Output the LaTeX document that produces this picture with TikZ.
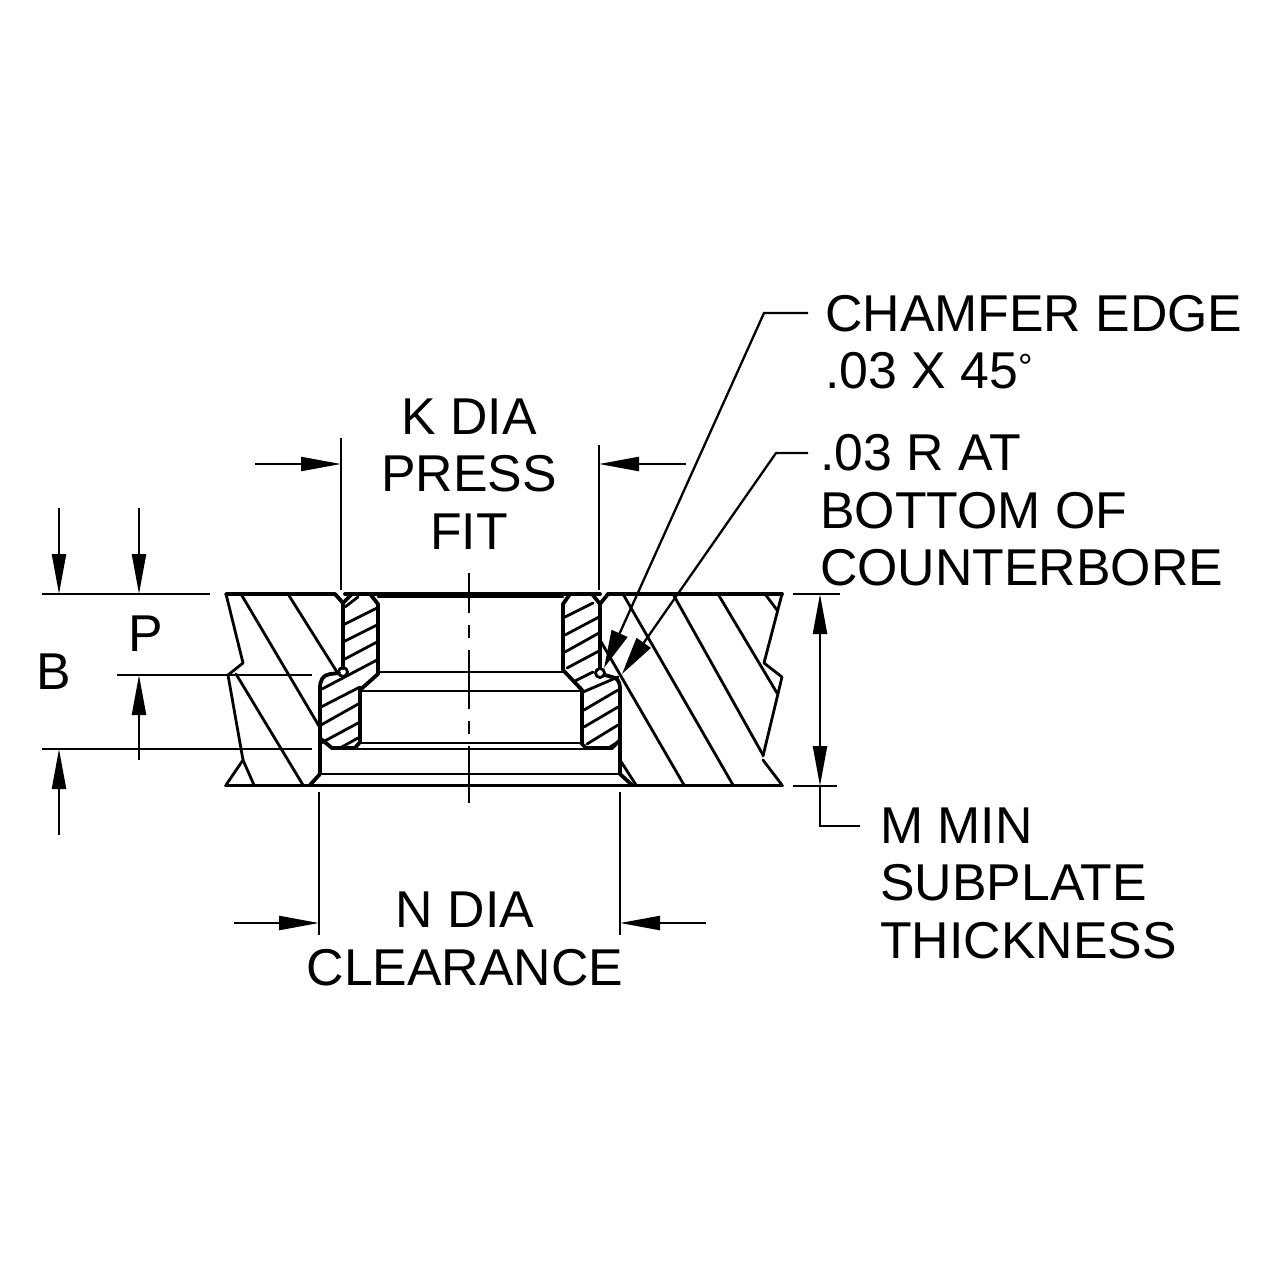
\documentclass[tikz,border=0pt]{standalone}
\usepackage{fontspec}
\setmainfont{Liberation Sans}
\usetikzlibrary{arrows.meta}
\tikzset{
  thick line/.style={line width=3.8pt,line cap=round,line join=round},
  body line/.style={line width=2.8pt,line cap=round,line join=round},
  dim/.style={line width=2.3pt,-{Triangle[length=40pt,width=14pt]}},
  dimboth/.style={line width=2.3pt,{Triangle[length=40pt,width=14pt]}-{Triangle[length=40pt,width=14pt]}},
  lead/.style={line width=2.3pt,line join=miter},
  leadtip/.style={line width=2.3pt,line join=miter,-{Triangle[length=38pt,width=17pt]}},
  extn/.style={line width=2.3pt},
  lab/.style={inner sep=0pt,font=\fontsize{51.8}{57.4}\selectfont},
}
\begin{document}
\begin{tikzpicture}[x=1pt,y=-1pt]
\useasboundingbox (0,0) rectangle (1280,1280);
\fill[white] (0,0) rectangle (1280,1280);

% plate outer edges, left
\draw[body line] (226,594) -- (243,663) -- (228,675) -- (243,760) -- (226,785);
\draw[body line] (243,760) -- (254,785);
% plate outer edges, right
\draw[body line] (782,594) -- (764,663) -- (782,677) -- (763,756);
\draw[body line] (763,760) -- (782,785);
% top and bottom faces
\draw[thick line] (226,594) -- (335,594) -- (343,603);
\draw[thick line] (608,594) -- (782,594);
\draw[thick line] (608,594) -- (600,604);
\draw[thick line] (226,785.5) -- (782,785.5);
\draw[thick line] (310,785) -- (320,774);
\draw[thick line] (632,785) -- (620,774);
% bore interior edges
\draw[thick line] (345,594) -- (600,594);
\draw[body line] (378,597) -- (563,597);
\draw[body line] (378,672) -- (563,672);
\draw[body line] (360,691) -- (582,691);
\draw[body line] (360,743) -- (582,743);
\draw[body line] (332,749) -- (612,749);
\draw[body line] (320,774) -- (620,774);

% left bushing
\draw[thick line] (343,603) -- (343,668);
\draw[thick line] (343,603) -- (352,594) -- (370,594) -- (378,604) -- (378,674) -- (360,690) -- (360,742) -- (355,748) -- (332,748) -- (321,739);
\draw[thick line] (339,673) -- (330,674) .. controls (323,675) and (320,680) .. (320,688) -- (320,774);
\draw[body line] (343,672) circle (4.5);
% right bushing
\draw[thick line] (600,604) -- (600,668);
\draw[thick line] (600,604) -- (592,594) -- (570,594) -- (563,604) -- (563,670) -- (582,690) -- (582,744) -- (586,748) -- (612,748) -- (620,740);
\draw[thick line] (605,675) -- (612,677) .. controls (617,678) and (620,681) .. (620,688) -- (620,774);
\draw[body line] (600,673) circle (4.5);

% hatching, plate left
\draw[body line] (241,594) -- (319,726);
\draw[body line] (288,594) -- (337,672);
\draw[body line] (236,674) -- (303,785);
% hatching, plate right
\draw[body line] (600,640) -- (684,785);
\draw[body line] (623,594) -- (733,785);
\draw[body line] (673,594) -- (763,755);
\draw[body line] (718,594) -- (777,693);
\draw[body line] (765,594) -- (777,610);
\draw[body line] (620,760) -- (636,785);
% hatching, left bushing
\draw[body line] (345,607) -- (358,597);
\draw[body line] (343,625) -- (377,608);
\draw[body line] (343,642) -- (377,625);
\draw[body line] (343,660) -- (377,642);
\draw[body line] (322,689) -- (377,660);
\draw[body line] (321,707) -- (360,687);
\draw[body line] (321,725) -- (360,703);
\draw[body line] (321,743) -- (360,722);
\draw[body line] (340,748) -- (358,738);
% hatching, right bushing
\draw[body line] (565,617) -- (593,603);
\draw[body line] (565,635) -- (599,617);
\draw[body line] (565,652) -- (599,633);
\draw[body line] (567,668) -- (599,651);
\draw[body line] (575,681) -- (593,672);
\draw[body line] (583,692) -- (618,677);
\draw[body line] (584,710) -- (618,690);
\draw[body line] (584,727) -- (618,707);
\draw[body line] (587,744) -- (618,725);
\draw[body line] (610,747) -- (618,742);

% centre line
\draw[extn,dash pattern=on 59pt off 12pt on 13pt off 12pt,dash phase=19pt] (469,573) -- (469,803);

% K DIA
\coordinate (kl) at (341,438); \coordinate (klb) at (341,590);
\coordinate (kr) at (599,445); \coordinate (krb) at (599,590);
\coordinate (kla) at (255,464); \coordinate (kltip) at (341,464);
\coordinate (kra) at (686,464); \coordinate (krtip) at (599,464);
\draw[extn] (kl) -- (klb);
\draw[extn] (kr) -- (krb);
\draw[dim] (kla) -- (kltip);
\draw[dim] (kra) -- (krtip);
\node[lab,align=center,anchor=north] (ktext) at (469,398.5) {K DIA\\PRESS\\FIT};

% N DIA
\coordinate (nl) at (319,792); \coordinate (nlb) at (319,935);
\coordinate (nr) at (620,792); \coordinate (nrb) at (620,935);
\coordinate (nla) at (234,923); \coordinate (nltip) at (319,923);
\coordinate (nra) at (706,923); \coordinate (nrtip) at (620,923);
\draw[extn] (nl) -- (nlb);
\draw[extn] (nr) -- (nrb);
\draw[dim] (nla) -- (nltip);
\draw[dim] (nra) -- (nrtip);
\node[lab,align=center,anchor=north] (ntext) at (465,892) {N DIA\\CLEARANCE};

% B and P
\coordinate (t1) at (42,594); \coordinate (t2) at (210,594);
\coordinate (m1) at (117,675); \coordinate (m2) at (312,675);
\coordinate (b1) at (42,749); \coordinate (b2) at (312,749);
\draw[extn] (t1) -- (t2);
\draw[extn] (m1) -- (m2);
\draw[extn] (b1) -- (b2);
\coordinate (ba) at (59,508); \coordinate (batip) at (59,594);
\coordinate (pa) at (139,508); \coordinate (patip) at (139,594);
\coordinate (pb) at (139,760); \coordinate (pbtip) at (139,675);
\coordinate (bb) at (59,835); \coordinate (bbtip) at (59,749);
\draw[dim] (ba) -- (batip);
\draw[dim] (pa) -- (patip);
\draw[dim] (pb) -- (pbtip);
\draw[dim] (bb) -- (bbtip);
\node[lab] (btext) at (54,672) {B};
\node[lab] (ptext) at (146,634) {P};

% M thickness
\coordinate (mt1) at (793,594); \coordinate (mt2) at (840,594);
\coordinate (mb1) at (793,786); \coordinate (mb2) at (837,786);
\coordinate (mtip1) at (820,594); \coordinate (mtip2) at (820,786);
\coordinate (mbend) at (820,826); \coordinate (mend) at (860,826);
\draw[extn] (mt1) -- (mt2);
\draw[extn] (mb1) -- (mb2);
\draw[dimboth] (mtip1) -- (mtip2);
\draw[lead] (mtip2) -- (mbend) -- (mend);
\node[lab,align=left,anchor=north west] (mtext) at (880,807.5) {M MIN\\SUBPLATE\\THICKNESS};

% chamfer leader
\coordinate (c0) at (808,313); \coordinate (c1) at (764,313); \coordinate (ctip) at (604,668);
\draw[leadtip] (c0) -- (c1) -- (ctip);
\node[lab,align=left,anchor=north west] (ctext) at (825,295) {CHAMFER EDGE\\.03 X 45\textsuperscript{°}};

% radius leader
\coordinate (r0) at (808,453); \coordinate (r1) at (776,453); \coordinate (rtip) at (622,674);
\draw[leadtip] (r0) -- (r1) -- (rtip);
\node[lab,align=left,anchor=north west] (rtext) at (820,434.5) {.03 R AT\\BOTTOM OF\\COUNTERBORE};
\end{tikzpicture}
\end{document}
